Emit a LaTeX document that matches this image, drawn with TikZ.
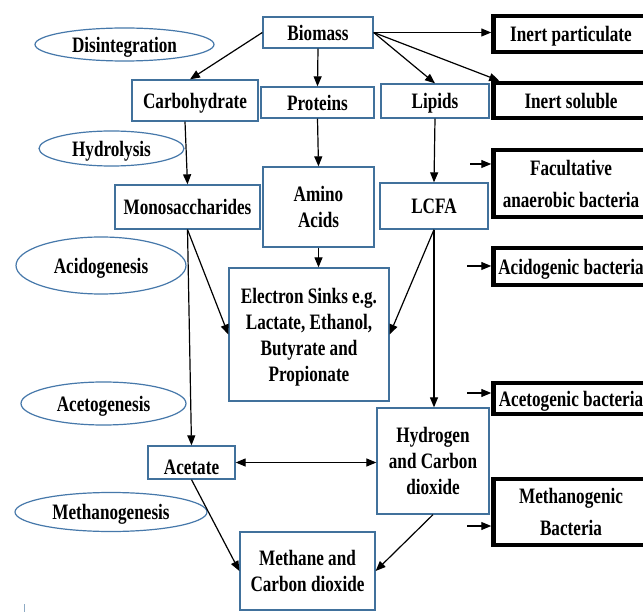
\documentclass[tikz,border=0pt]{standalone}
\usepackage{fontspec}
\setmainfont{Liberation Serif}[FakeStretch=0.78]
\usetikzlibrary{arrows.meta,shapes.geometric}
\definecolor{boxblue}{RGB}{65,113,156}
\definecolor{ellblue}{RGB}{70,120,170}
\begin{document}
\begin{tikzpicture}[x=1pt,y=-1pt,
  font=\fontsize{22}{26}\selectfont\bfseries,
  every node/.style={text depth=0pt},
  bbox/.style={draw=boxblue, line width=1.3pt, rectangle, inner sep=0pt, align=center},
  kbox/.style={draw=black, line width=4.5pt, rectangle, inner sep=0pt, align=center,
               minimum width=155pt, font=\fontsize{22}{32}\selectfont\bfseries},
  phase/.style={ellipse, draw=ellblue, line width=1.2pt, inner sep=0pt},
  arr/.style={-{Triangle[length=10pt,width=8pt]}, line width=1.2pt},
  darr/.style={{Triangle[length=10pt,width=8pt]}-{Triangle[length=10pt,width=8pt]}, line width=1.2pt}]
\useasboundingbox (0,0) rectangle (643,612);
\clip (0,0) rectangle (643,612);
\fill[white] (0,0) rectangle (643,612);

% phase ellipses
\node[phase, minimum width=179pt, minimum height=33pt] (disint) at (124.5,44.5) {Disintegration};
\node[phase, minimum width=145pt, minimum height=35pt] (hydrol) at (111.5,148.5) {Hydrolysis};
\node[phase, minimum width=170pt, minimum height=57pt] (acidog) at (101,265.5) {Acidogenesis};
\node[phase, minimum width=165pt, minimum height=43pt] (acetog) at (103.5,403.5) {Acetogenesis};
\node[phase, minimum width=192pt, minimum height=39pt] (methanog) at (111,512) {Methanogenesis};

% process boxes
\node[bbox, minimum width=110pt, minimum height=31pt] (biomass) at (318,32.5) {Biomass};
\node[bbox, minimum width=126pt, minimum height=41pt] (carb) at (195,100.5) {Carbohydrate};
\node[bbox, minimum width=113pt, minimum height=31pt] (prot) at (317.5,102.5) {Proteins};
\node[bbox, minimum width=108pt, minimum height=34pt] (lipids) at (435,101) {Lipids};
\node[bbox, minimum width=145pt, minimum height=44pt] (mono) at (187.5,207) {Monosaccharides};
\node[bbox, minimum width=111pt, minimum height=80pt] (amino) at (318.5,207) {Amino\\Acids};
\node[bbox, minimum width=108pt, minimum height=46pt] (lcfa) at (434,206) {LCFA};
\node[bbox, minimum width=160pt, minimum height=133pt] (elec) at (309,334.5) {Electron Sinks e.g.\\Lactate, Ethanol,\\Butyrate and\\Propionate};
\node[bbox, minimum width=87pt, minimum height=33pt, text height=25pt] (acetate) at (191.5,462.5) {Acetate};
\node[bbox, minimum width=112pt, minimum height=106pt] (hydro) at (433,461) {Hydrogen\\and Carbon\\dioxide};
\node[bbox, minimum width=135pt, minimum height=78pt] (methane) at (307.5,571) {Methane and\\Carbon dioxide};

% black boxes
\node[kbox, minimum height=36pt] (inertp) at (571,34) {Inert particulate};
\node[kbox, minimum height=35pt] (inerts) at (571,100.5) {Inert soluble};
\node[kbox, minimum height=67pt] (facult) at (571,183.5) {Facultative\\anaerobic bacteria};
\node[kbox, minimum height=37pt] (acidb) at (571,266.5) {Acidogenic bacteria};
\node[kbox, minimum height=31pt] (acetb) at (571,398.5) {Acetogenic bacteria};
\node[kbox, minimum height=66pt] (methb) at (571,512) {Methanogenic\\Bacteria};

% connectors
\draw[arr] (biomass.east) -- (biomass.east -| inertp.west);
\draw[arr] (biomass.east) -- ([xshift=8pt]inerts.north west);
\draw[arr] (biomass.east) -- (lipids.north);
\draw[arr] (biomass.west) -- ([xshift=-5pt]carb.north);
\draw[arr] (biomass.south) -- (prot.north);
\draw[arr] ([xshift=-10pt]carb.south) -- (mono.north);
\draw[arr] (prot.south) -- (amino.north);
\draw[arr] (lipids.south) -- (lcfa.north);
\draw[arr] (amino.south) -- (amino.south |- elec.north);
\draw[arr] (mono.south) -- (elec.west);
\draw[arr] (mono.south) -- (acetate.north);
\draw[arr] (lcfa.south) -- (elec.east);
\draw[arr] (lcfa.south) -- (lcfa.south |- hydro.north);
\draw[darr] (acetate.east) -- (acetate.east -| hydro.west);
\draw[arr] (acetate.south) -- (methane.west);
\draw[arr] (hydro.south) -- (methane.east);

% short arrows to bacteria boxes
\coordinate (f0) at (470,164);
\coordinate (a0) at (467,266);
\coordinate (c0) at (467,393);
\coordinate (m0) at (467,526);
\draw[arr] (f0) -- (f0 -| facult.west);
\draw[arr] (a0) -- (a0 -| acidb.west);
\draw[arr] (c0) -- (c0 -| acetb.west);
\draw[arr] (m0) -- (m0 -| methb.west);

% small tick mark at bottom left
\coordinate (t0) at (24,604);
\coordinate (t1) at (24,612);
\draw[boxblue!60, line width=0.8pt] (t0) -- (t1);
\end{tikzpicture}
\end{document}
